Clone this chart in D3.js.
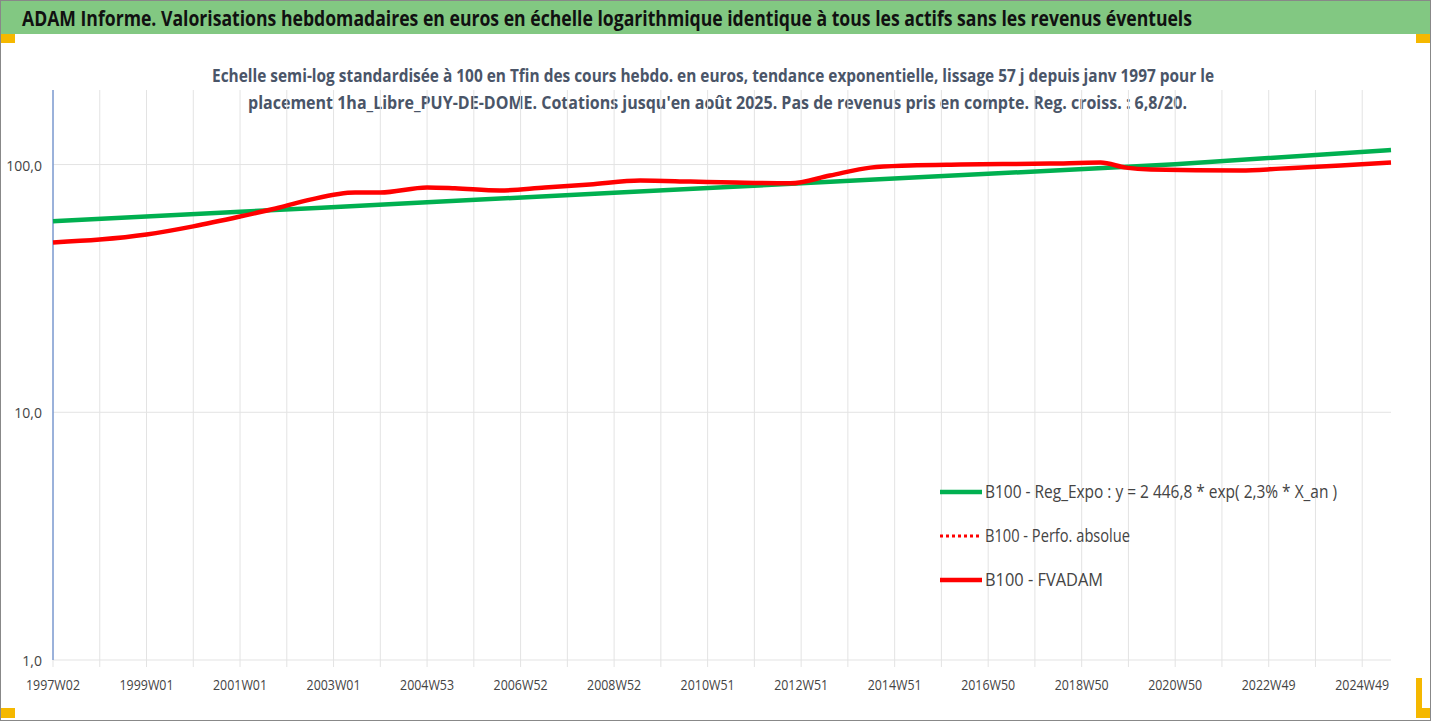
<!DOCTYPE html>
<html><head><meta charset="utf-8">
<script src="https://cdn.jsdelivr.net/npm/d3@7/dist/d3.min.js"></script>
<style>body{margin:0;background:#fff}svg{display:block}text{font-family:"Open Sans",sans-serif}</style>
</head><body><svg id="c" width="1431" height="721"></svg>
<script>
const tickLabels=["1997W02","1999W01","2001W01","2003W01","2004W53","2006W52","2008W52","2010W51","2012W51","2014W51","2016W50","2018W50","2020W50","2022W49","2024W49"];
const nWeeks=1488;
// red series: [week index, value]
const fvWeeks=[0,52,104,156,208,252,286,336,364,416,447,497,547,597,653,709,759,820,864,909,953,1009,1109,1165,1193,1221,1321,1365,1432,1488];
const fvValues=[48.5,49.8,52.2,56.3,61.7,67.1,72.2,77.1,77.1,80.8,80.2,78.6,80.8,83.0,86.2,85.4,84.6,84.0,90.3,97.2,99.1,100,100.9,101.9,97.2,95.5,94.6,96.3,99.1,101.9];
// green regression series
const regWeeks=[0,208,416,624,832,1040,1248,1488];
const regValues=[59.0,64.5,70.4,77.0,84.0,91.8,100.3,114.5];
const legendLabels=["B100 - Reg_Expo : y = 2 446,8 * exp( 2,3% *  X_an )","B100 - Perfo. absolue","B100 - FVADAM"];

const svg=d3.select("#c");
svg.append("rect").attr("x",0.5).attr("y",0.5).attr("width",1430).attr("height",720).attr("fill","#fff").attr("stroke","#888");
svg.append("rect").attr("x",1).attr("y",1).attr("width",1429).attr("height",33).attr("fill","#82c882");
svg.append("text").attr("x",22).attr("y",26).attr("font-size",21).attr("font-weight","bold").attr("fill","#111")
 .attr("textLength",1170).attr("lengthAdjust","spacingAndGlyphs")
 .text("ADAM Informe. Valorisations hebdomadaires en euros en échelle logarithmique identique à tous les actifs sans les revenus éventuels");
svg.append("rect").attr("x",1).attr("y",34).attr("width",14).attr("height",9).attr("fill","#f5b800");
svg.append("rect").attr("x",1416).attr("y",34).attr("width",14).attr("height",9).attr("fill","#f5b800");
svg.append("rect").attr("x",1).attr("y",708).attr("width",14).attr("height",10).attr("fill","#f5b800");
svg.append("rect").attr("x",1416).attr("y",678).attr("width",6).attr("height",40).attr("fill","#f5b800");
svg.append("rect").attr("x",1416).attr("y",708).attr("width",14).attr("height",10).attr("fill","#f5b800");

const L=53,R=1391,T=90,B=660;
const x=d3.scaleLinear().domain([0,nWeeks]).range([L,R]);
const y=d3.scaleLog().domain([1,200]).range([B,T]);

svg.append("text").attr("x",212).attr("y",82).attr("font-size",17).attr("font-weight","bold").attr("fill","#4a5568")
 .attr("textLength",1002).attr("lengthAdjust","spacingAndGlyphs")
 .text("Echelle semi-log standardisée à 100 en Tfin des cours hebdo. en euros, tendance exponentielle, lissage 57 j depuis janv 1997 pour le");
svg.append("text").attr("x",248).attr("y",109).attr("font-size",17).attr("font-weight","bold").attr("fill","#4a5568")
 .attr("textLength",939).attr("lengthAdjust","spacingAndGlyphs")
 .text("placement 1ha_Libre_PUY-DE-DOME. Cotations jusqu'en août 2025. Pas de revenus pris en compte. Reg. croiss. : 6,8/20.");

const g=svg.append("g");
const vt=d3.range(0,nWeeks,52);
g.selectAll(".vg").data(vt).join("line").attr("x1",d=>x(d)).attr("x2",d=>x(d)).attr("y1",T).attr("y2",B+7).attr("stroke","#e3e3e3");
g.selectAll(".hg").data([1,10,100]).join("line").attr("x1",L).attr("x2",R).attr("y1",d=>y(d)).attr("y2",d=>y(d)).attr("stroke","#e3e3e3");
g.append("line").attr("x1",L).attr("x2",L).attr("y1",T).attr("y2",B).attr("stroke","#4472c4");
g.selectAll(".yl").data([1,10,100]).join("text").attr("x",L-11).attr("y",d=>y(d)+6).attr("text-anchor","end").attr("font-size",14).attr("fill","#444")
 .text(d=>d3.format(".1f")(d).replace(".",","));
g.selectAll(".xl").data(tickLabels).join("text").attr("x",(d,i)=>x(i*104)).attr("y",690).attr("text-anchor","middle").attr("font-size",14).attr("fill","#444")
 .attr("textLength",54).attr("lengthAdjust","spacingAndGlyphs").text(d=>d);

const line=d3.line().x(d=>x(d[0])).y(d=>y(d[1])).curve(d3.curveMonotoneX);
g.append("path").attr("d",line(regWeeks.map((w,i)=>[w,regValues[i]]))).attr("fill","none").attr("stroke","#00b050").attr("stroke-width",4.5);
g.append("path").attr("d",line(fvWeeks.map((w,i)=>[w,fvValues[i]]))).attr("fill","none").attr("stroke","#ff0000").attr("stroke-width",4.5);

const lg=svg.append("g");
const styles=[{c:"#00b050",d:null,w:4.5},{c:"#ff0000",d:"3,3",w:3},{c:"#ff0000",d:null,w:4.5}];
const lw=[352,145,118];
legendLabels.forEach((t,i)=>{
 const yy=492+i*44;
 lg.append("line").attr("x1",940).attr("x2",982).attr("y1",yy).attr("y2",yy).attr("stroke",styles[i].c).attr("stroke-width",styles[i].w).attr("stroke-dasharray",styles[i].d);
 lg.append("text").attr("x",985).attr("y",yy+6).attr("font-size",18).attr("fill","#444")
  .attr("textLength",lw[i]).attr("lengthAdjust","spacingAndGlyphs").text(t);
});
</script></body></html>
